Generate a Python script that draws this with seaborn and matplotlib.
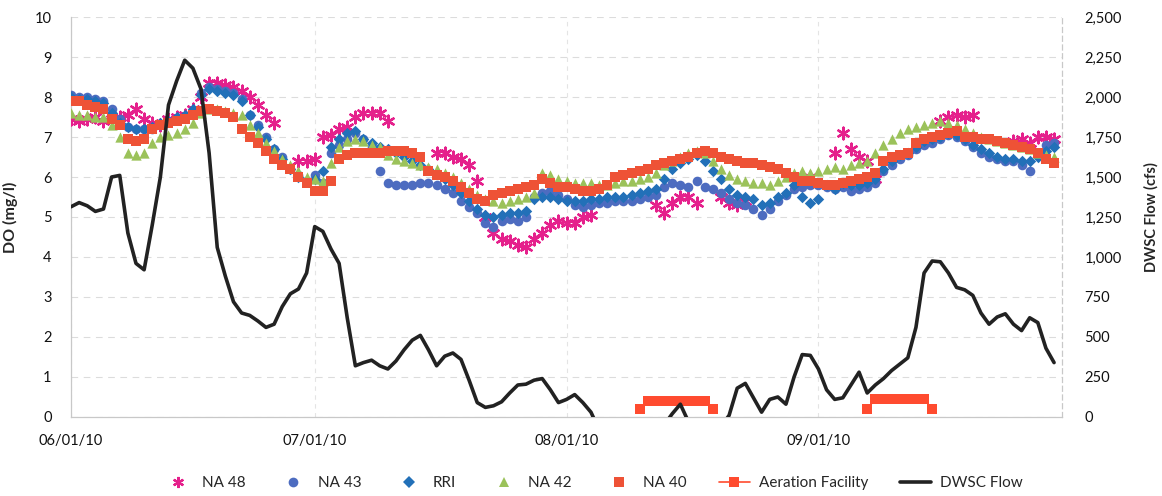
import numpy as np
import pandas as pd
import matplotlib
matplotlib.use("Agg")
import matplotlib.pyplot as plt
import matplotlib.dates as mdates
from matplotlib.lines import Line2D
from matplotlib.ticker import FuncFormatter, MultipleLocator
import seaborn as sns

# ---- daily record, 06/01/10 - 09/30/10 ----
start_date = "2010-06-01"
n_days = 122

na48 = [7.45, 7.4, 7.45, 7.5, 7.4, 7.45, 7.5, 7.55, 7.7, 7.45,
        7.35, 7.3, 7.45, 7.5, 7.55, 7.7, 8.0, 8.35, 8.35, 8.3,
        8.25, 8.15, 8.0, 7.8, 7.55, 7.35, None, None, 6.4, 6.4,
        6.45, 7.0, 7.05, 7.2, 7.25, 7.5, 7.6, 7.6, 7.6, 7.4,
        None, None, None, None, None, 6.6, 6.6, 6.5, 6.45, 6.3,
        5.9, 5.0, 4.6, 4.45, 4.4, 4.3, 4.25, 4.45, 4.6, 4.8,
        4.9, 4.85, 4.85, 5.0, 5.05, None, None, None, None, None,
        None, None, 5.3, 5.1, 5.35, 5.5, 5.5, 5.35, None, None,
        5.5, 5.35, 5.3, 5.4, None, None, None, None, None, None,
        5.95, 6.0, None, None, 6.6, 7.1, 6.7, 6.5, 6.4, 5.95,
        None, None, None, None, None, None, None, 7.4, 7.5, 7.55,
        7.5, 7.55, None, None, None, None, 6.9, 6.95, 6.85, 7.0,
        7.0, 6.95]

na43 = [8.05, 8.0, 8.0, 7.95, 7.9, 7.7, 7.45, 7.25, 7.2, 7.2,
        7.2, 7.3, 7.4, 7.45, 7.5, 7.65, 8.1, 8.25, 8.2, 8.15,
        8.1, 7.95, 7.55, 7.3, 7.0, 6.7, 6.5, 6.2, 6.05, 5.9,
        6.05, 5.85, 6.6, 6.8, 6.95, 7.1, 6.95, 6.75, 6.15, 5.85,
        5.8, 5.8, 5.8, 5.85, 5.85, 5.8, 5.7, 5.6, 5.4, 5.25,
        5.1, 4.85, 4.75, 4.9, 4.95, 4.9, 5.0, 5.5, 5.6, 5.65,
        5.55, 5.45, 5.3, 5.25, 5.3, 5.35, 5.35, 5.4, 5.4, 5.4,
        5.45, 5.5, 5.55, 5.75, 5.85, 5.8, 5.75, 5.9, 5.75, 5.7,
        5.6, 5.45, 5.35, 5.3, 5.2, 5.05, 5.2, 5.4, 5.55, 5.7,
        5.75, 5.8, 5.8, 5.75, 5.7, 5.75, 5.65, 5.7, 5.75, 5.85,
        6.15, 6.3, 6.45, 6.55, 6.7, 6.8, 6.85, 6.95, 7.05, 7.0,
        6.9, 6.75, 6.6, 6.5, 6.45, 6.4, 6.4, 6.3, 6.15, None,
        6.8, 6.85]

rri = [8.0, 7.95, 7.95, 7.9, 7.85, 7.6, 7.35, 7.25, 7.2, 7.2,
       7.25, 7.35, 7.4, 7.5, 7.55, 7.7, 8.05, 8.2, 8.15, 8.1,
       8.05, 7.9, 7.55, 7.25, 6.95, 6.7, 6.45, 6.2, 6.0, 5.9,
       5.95, 6.15, 6.75, 6.95, 7.1, 7.15, 6.95, 6.85, 6.75, 6.7,
       6.6, 6.5, 6.4, 6.3, 6.2, 6.1, 5.95, 5.8, 5.6, 5.4,
       5.2, 5.05, 5.0, 5.05, 5.1, 5.1, 5.15, 5.45, 5.5, 5.5,
       5.45, 5.4, 5.4, 5.4, 5.45, 5.45, 5.5, 5.5, 5.5, 5.55,
       5.6, 5.65, 5.7, 5.95, 6.2, 6.35, 6.45, 6.55, 6.4, 6.15,
       5.95, 5.7, 5.55, 5.5, 5.45, 5.3, 5.35, 5.5, 5.6, 5.8,
       5.5, 5.35, 5.45, 5.8, 5.7, 5.85, 5.8, 5.8, 5.85, 5.95,
       6.2, 6.4, 6.55, 6.6, 6.75, 6.9, 6.95, 7.0, 7.1, 7.05,
       6.95, 6.8, 6.7, 6.6, 6.5, 6.45, 6.45, 6.4, 6.4, 6.5,
       6.65, 6.75]

na42 = [7.6, 7.55, 7.55, 7.5, 7.5, 7.3, 7.0, 6.6, 6.55, 6.6,
        6.85, 7.0, 7.05, 7.1, 7.2, 7.35, 7.6, 7.7, 7.7, 7.65,
        7.6, 7.55, 7.3, 7.1, 6.85, 6.65, 6.45, 6.3, 6.15, 6.0,
        5.95, 5.9, 6.35, 6.75, 6.9, 6.95, 6.9, 6.8, 6.75, 6.55,
        6.45, 6.4, 6.35, 6.3, 6.25, 6.2, 6.1, 6.0, 5.85, 5.7,
        5.55, 5.45, 5.4, 5.35, 5.4, 5.45, 5.5, 5.6, 6.1, 6.05,
        5.95, 5.9, 5.85, 5.85, 5.85, 5.8, 5.8, 5.85, 5.9, 5.9,
        5.95, 6.0, 6.1, 6.3, 6.4, 6.5, 6.6, 6.65, 6.6, 6.4,
        6.2, 6.05, 5.95, 5.9, 5.85, 5.85, 5.8, 5.9, 6.0, 6.1,
        6.15, 6.1, 6.15, 6.2, 6.25, 6.2, 6.3, 6.35, 6.4, 6.6,
        6.8, 6.95, 7.1, 7.2, 7.25, 7.3, 7.35, 7.4, 7.35, 7.3,
        7.2, 7.1, 7.0, 6.95, 6.9, 6.85, 6.8, 6.75, 6.7, 6.6,
        6.55, 6.5]

na40 = [7.9, 7.9, 7.8, 7.75, 7.7, 7.45, 7.3, 6.95, 6.9, 6.95,
        7.2, 7.3, 7.35, 7.4, 7.45, 7.55, 7.65, 7.7, 7.65, 7.6,
        7.5, 7.2, 7.0, 6.85, 6.65, 6.45, 6.3, 6.2, 6.0, 5.85,
        5.65, 5.65, 5.9, 6.45, 6.55, 6.6, 6.6, 6.6, 6.6, 6.65,
        6.65, 6.65, 6.6, 6.5, 6.15, 6.05, 6.0, 5.9, 5.75, 5.6,
        5.45, 5.4, 5.55, 5.6, 5.65, 5.7, 5.75, 5.8, 5.95, 5.85,
        5.75, 5.75, 5.7, 5.65, 5.65, 5.7, 5.8, 6.0, 6.05, 6.1,
        6.15, 6.2, 6.3, 6.35, 6.4, 6.45, 6.5, 6.6, 6.65, 6.6,
        6.5, 6.45, 6.4, 6.35, 6.35, 6.3, 6.25, 6.2, 6.1, 6.0,
        5.9, 5.9, 5.85, 5.8, 5.8, 5.85, 5.9, 5.95, 6.0, 6.1,
        6.4, 6.5, 6.55, 6.6, 6.85, 6.95, 7.0, 7.05, 7.1, 7.15,
        7.0, 7.0, 6.95, 6.95, 6.9, 6.85, 6.8, 6.75, 6.7, 6.6,
        6.45, 6.35]

# DWSC net flow (cfs); negative values fall below the axis floor
dwsc_flow = [1314, 1340, 1320, 1285, 1300, 1500, 1510, 1150, 960, 920,
             1200, 1500, 1950, 2100, 2230, 2180, 2050, 1650, 1060, 880,
             720, 650, 635, 600, 560, 580, 690, 770, 800, 900,
             1190, 1160, 1050, 960, 620, 320, 340, 355, 320, 300,
             350, 420, 480, 510, 420, 320, 380, 400, 360, 230,
             90, 60, 70, 95, 150, 200, 205, 230, 240, 170,
             90, 110, 140, 90, 30, -80, -150, -200, -120, -40,
             -100, -60, -100, -50, 20, 80, -30, -150, -200, -150,
             -60, 10, 180, 210, 120, 30, 110, 125, 80, 250,
             390, 385, 300, 170, 110, 120, 200, 280, 150, 200,
             240, 290, 330, 370, 560, 900, 975, 970, 900, 810,
             795, 760, 650, 580, 625, 645, 580, 540, 620, 590,
             430, 340]

# Aeration facility operating periods (day index, indicator value)
aer_days = [70, 71, 72, 73, 74, 75, 76, 77, 78, 79,
            98, 99, 100, 101, 102, 103, 104, 105, 106]
aer_vals = [0.2, 0.4, 0.4, 0.4, 0.4, 0.4, 0.4, 0.4, 0.4, 0.2,
            0.2, 0.45, 0.45, 0.45, 0.45, 0.45, 0.45, 0.45, 0.2]
aer_period = [1] * 10 + [2] * 9

month_ticks = ["2010-06-01", "2010-07-01", "2010-08-01", "2010-09-01"]
series_labels = ["NA 48", "NA 43", "RRI", "NA 42", "NA 40",
                 "Aeration Facility", "DWSC Flow"]

# ---- frames ----
dates = pd.date_range(start_date, periods=n_days, freq="D")


def frame(vals):
    return pd.DataFrame({"date": dates,
                         "value": pd.to_numeric(pd.Series(vals, dtype="float"))})


aer = pd.DataFrame({"date": dates[aer_days], "value": aer_vals, "period": aer_period})
flow = pd.DataFrame({"date": dates, "flow": dwsc_flow})

# ---- figure ----
sns.set_theme(style="white")
plt.rcParams["font.family"] = ["Lato", "DejaVu Sans"]

fig = plt.figure(figsize=(11.62, 4.96), dpi=100)
ax = fig.add_axes([0.0611, 0.1593, 0.8530, 0.8064])

c_pink = "#e5208c"
c_circle = "#4d6cc0"
c_rri = "#2270b8"
c_green = "#9bc25a"
c_red = "#ee5236"
c_aer = "#ff4b2f"
c_flow = "#222222"

sns.scatterplot(data=frame(na48), x="date", y="value", ax=ax, marker=(6, 2, 0),
                color=c_pink, s=70, linewidth=1.7, zorder=3, legend=False)
sns.scatterplot(data=frame(na43), x="date", y="value", ax=ax, marker="o",
                color=c_circle, s=48, linewidth=0, zorder=3, legend=False)
sns.scatterplot(data=frame(rri), x="date", y="value", ax=ax, marker="D",
                color=c_rri, s=34, linewidth=0, zorder=3, legend=False)
sns.scatterplot(data=frame(na42), x="date", y="value", ax=ax, marker="^",
                color=c_green, s=55, linewidth=0, zorder=3, legend=False)
sns.scatterplot(data=frame(na40), x="date", y="value", ax=ax, marker="s",
                color=c_red, s=50, linewidth=0, zorder=3, legend=False)
sns.lineplot(data=aer, x="date", y="value", units="period", estimator=None, ax=ax,
             color=c_aer, lw=1.2, marker="s", markersize=7.5, markeredgewidth=0,
             zorder=4, legend=False)

ax.set_ylim(0, 10)
ax.yaxis.set_major_locator(MultipleLocator(1))
ax.set_xlim(pd.Timestamp("2010-06-01"), pd.Timestamp("2010-10-01"))
ax.set_xticks(pd.to_datetime(month_ticks))
ax.xaxis.set_major_formatter(mdates.DateFormatter("%m/%d/%y"))
ax.set_xlabel("")
ax.set_ylabel("DO (mg/l)", fontsize=11.5, fontweight="bold", labelpad=12)
ax.tick_params(axis="both", labelsize=10.5, length=0, colors="#111111")
ax.tick_params(axis="x", pad=12)
ax.tick_params(axis="y", pad=14)
ax.grid(True, axis="y", color="#dcdcdc", lw=0.8, ls=(0, (6, 5)))
ax.grid(True, axis="x", color="#e4e4e4", lw=0.8, ls=(0, (4, 4)))
for side in ["top", "right"]:
    ax.spines[side].set_visible(False)
for side in ["left", "bottom"]:
    ax.spines[side].set_color("#c8c8c8")
    ax.spines[side].set_linewidth(0.9)

ax2 = ax.twinx()
sns.lineplot(data=flow, x="date", y="flow", ax=ax2, color=c_flow, lw=2.6,
             legend=False)
ax2.set_ylim(0, 2500)
ax2.yaxis.set_major_locator(MultipleLocator(250))
ax2.yaxis.set_major_formatter(FuncFormatter(lambda v, p: f"{int(v):,}"))
ax2.set_ylabel("DWSC Flow (cfs)", fontsize=10.5, fontweight="bold", labelpad=16)
ax2.tick_params(axis="y", labelsize=10.5, length=0, pad=16, colors="#111111")
for side in ["top", "left", "bottom"]:
    ax2.spines[side].set_visible(False)
ax2.spines["right"].set_color("#c8c8c8")
ax2.spines["right"].set_linestyle((0, (4, 3)))
ax2.spines["right"].set_linewidth(0.9)

# legend entries, one per series
handles = [
    Line2D([], [], ls="", marker=(6, 2, 0), color=c_pink, markersize=8, mew=1.6),
    Line2D([], [], ls="", marker="o", color=c_circle, markersize=7, mew=0),
    Line2D([], [], ls="", marker="D", color=c_rri, markersize=6, mew=0),
    Line2D([], [], ls="", marker="^", color=c_green, markersize=7.5, mew=0),
    Line2D([], [], ls="", marker="s", color=c_red, markersize=7.5, mew=0),
    Line2D([], [], color=c_aer, lw=1.2, marker="s", markersize=7.5, mew=0),
    Line2D([], [], color=c_flow, lw=2.6),
]
fig.legend(handles, series_labels, loc="center", bbox_to_anchor=(0.51, 0.026),
           ncol=7, frameon=False, fontsize=11, columnspacing=2.1,
           handletextpad=0.6, handlelength=2.0)

fig.savefig("out.png", dpi=100)
